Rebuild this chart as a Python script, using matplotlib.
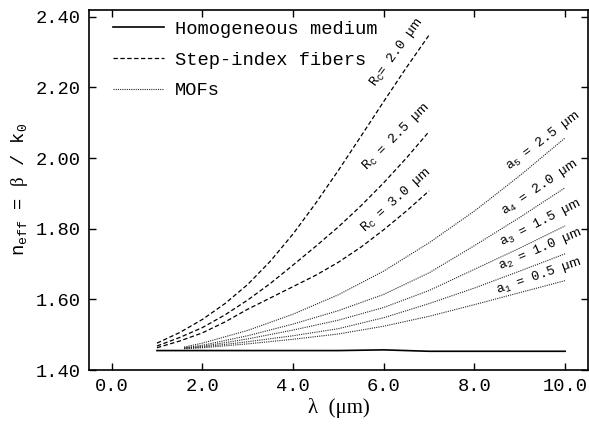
import matplotlib
matplotlib.use("Agg")
import matplotlib.pyplot as plt

# wavelength (um) grids
lam_homog = [1.0, 2.0, 3.0, 4.0, 5.0, 5.5, 6.0, 6.5, 7.0, 8.0, 9.0, 10.0]
n_homog = [1.455, 1.455, 1.455, 1.455, 1.455, 1.456, 1.457, 1.455, 1.453, 1.453, 1.453, 1.453]

lam_step = [1.0, 1.5, 2.0, 2.5, 3.0, 3.5, 4.0, 4.5, 5.0, 5.5, 6.0, 6.5, 7.0]
n_rc20 = [1.476, 1.506, 1.543, 1.588, 1.642, 1.708, 1.785, 1.872, 1.965, 2.062, 2.160, 2.256, 2.348]
n_rc25 = [1.468, 1.492, 1.520, 1.556, 1.598, 1.645, 1.697, 1.750, 1.805, 1.865, 1.930, 2.000, 2.075]
n_rc30 = [1.463, 1.482, 1.505, 1.536, 1.572, 1.604, 1.636, 1.668, 1.705, 1.748, 1.797, 1.850, 1.907]

lam_mof = [1.6, 2.0, 3.0, 4.0, 5.0, 6.0, 7.0, 8.0, 9.0, 10.0]
n_a5 = [1.465, 1.476, 1.512, 1.558, 1.613, 1.680, 1.760, 1.850, 1.950, 2.057]
n_a4 = [1.463, 1.470, 1.497, 1.530, 1.568, 1.614, 1.675, 1.752, 1.832, 1.916]
n_a3 = [1.462, 1.467, 1.488, 1.513, 1.541, 1.577, 1.625, 1.685, 1.745, 1.808]
n_a2 = [1.461, 1.465, 1.480, 1.497, 1.517, 1.548, 1.588, 1.632, 1.680, 1.729]
n_a1 = [1.460, 1.463, 1.474, 1.487, 1.502, 1.524, 1.552, 1.585, 1.619, 1.653]

x_ticks = [0.0, 2.0, 4.0, 6.0, 8.0, 10.0]
y_ticks = [1.40, 1.60, 1.80, 2.00, 2.20, 2.40]

plt.rcParams['font.family'] = 'Liberation Mono'
plt.rcParams['mathtext.fontset'] = 'custom'
plt.rcParams['mathtext.rm'] = 'Liberation Serif'
plt.rcParams['mathtext.tt'] = 'Liberation Mono'
plt.rcParams['mathtext.sf'] = 'Liberation Sans'

fig = plt.figure(figsize=(5.89, 4.28), dpi=100)
ax = fig.add_axes([0.151, 0.1355, 0.847, 0.842])

ax.plot(lam_homog, n_homog, color='black', lw=1.2, label='Homogeneous medium')

dash_kw = dict(color='black', lw=0.9, dashes=(3.5, 2))
ax.plot(lam_step, n_rc20, label='Step-index fibers', **dash_kw)
ax.plot(lam_step, n_rc25, **dash_kw)
ax.plot(lam_step, n_rc30, **dash_kw)

dot_kw = dict(color='0.15', lw=0.8, dashes=(1, 1))
ax.plot(lam_mof, n_a5, label='MOFs', **dot_kw)
for n in [n_a4, n_a3, n_a2, n_a1]:
    ax.plot(lam_mof, n, **dot_kw)

# curve labels
um = r'$\mathsf{μm}$'
lab_kw = dict(fontsize=9.5, ha='center', va='center', rotation_mode='anchor')
ax.text(6.28, 2.30, r'R$_{\mathtt{C}}$= 2.0 ' + um, rotation=54, **lab_kw)
ax.text(6.28, 2.06, r'R$_{\mathtt{C}}$ = 2.5 ' + um, rotation=45, **lab_kw)
ax.text(6.26, 1.88, r'R$_{\mathtt{C}}$ = 3.0 ' + um, rotation=42, **lab_kw)
ax.text(9.52, 2.05, r'a$_{\mathtt{5}}$ = 2.5 ' + um, rotation=37, **lab_kw)
ax.text(9.44, 1.918, r'a$_{\mathtt{4}}$ = 2.0 ' + um, rotation=34, **lab_kw)
ax.text(9.46, 1.818, r'a$_{\mathtt{3}}$ = 1.5 ' + um, rotation=27, **lab_kw)
ax.text(9.44, 1.742, r'a$_{\mathtt{2}}$ = 1.0 ' + um, rotation=23, **lab_kw)
ax.text(9.42, 1.666, r'a$_{\mathtt{1}}$ = 0.5 ' + um, rotation=19, **lab_kw)

ax.set_xlim(-0.5, 10.5)
ax.set_ylim(1.40, 2.42)
ax.set_xticks(x_ticks)
ax.set_yticks(y_ticks)
ax.set_xticklabels([f'{v:.1f}' for v in x_ticks])
ax.set_yticklabels([f'{v:.2f}' for v in y_ticks])
ax.tick_params(direction='in', length=5, width=1, top=True, right=True,
               labelsize=13.5, pad=6)
for s in ax.spines.values():
    s.set_linewidth(1.2)

ax.set_xlabel('λ  (μm)', fontfamily='Liberation Serif', fontsize=15, labelpad=2)
ax.set_ylabel(r'$\mathtt{n_{eff}}$ = $\mathrm{β}$ / $\mathtt{k_0}$', fontsize=13.5, labelpad=4)

ax.legend(loc='upper left', frameon=False, fontsize=13.5, handlelength=2.7,
          handletextpad=0.6, labelspacing=0.72, borderaxespad=0.2,
          bbox_to_anchor=(0.026, 1.0))

fig.savefig('out.png', dpi=100)
